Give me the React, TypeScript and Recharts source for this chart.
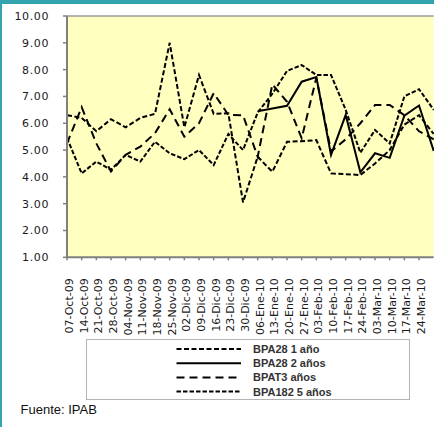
import React from 'react';
import { LineChart, Line, XAxis, YAxis, CartesianGrid, ReferenceLine } from 'recharts';

const dates = ['07-Oct-09','14-Oct-09','21-Oct-09','28-Oct-09','04-Nov-09','11-Nov-09','18-Nov-09','25-Nov-09','02-Dic-09','09-Dic-09','16-Dic-09','23-Dic-09','30-Dic-09','06-Ene-10','13-Ene-10','20-Ene-10','27-Ene-10','03-Feb-10','10-Feb-10','17-Feb-10','24-Feb-10','03-Mar-10','10-Mar-10','17-Mar-10','24-Mar-10','31-Mar-10'];

const bpa28_1 = [6.3, 6.2, 5.7, 6.15, 5.85, 6.2, 6.35, 9.0, 5.85, 7.8, 6.35, 6.37, 3.05, 4.75, 4.19, 5.31, 5.33, 5.37, 4.13, 4.1, 4.07, 4.5, 5.0, 5.95, 6.3, 5.6];
const bpa28_2: (number | null)[] = [null, null, null, null, null, null, null, null, null, null, null, null, null, 6.45, 6.55, 6.65, 7.55, 7.72, 4.82, 6.31, 4.17, 4.88, 4.71, 6.28, 6.66, 4.97];
const bpat3 = [5.25, 6.6, 5.25, 4.2, 4.82, 5.13, 5.63, 6.52, 5.5, 6.0, 7.12, 6.31, 6.3, 4.75, 7.45, 6.8, 5.44, 7.7, 4.95, 5.4, 6.0, 6.68, 6.68, 6.3, 5.7, 5.4];
const bpa182_5 = [5.45, 4.13, 4.57, 4.26, 4.82, 4.57, 5.31, 4.88, 4.66, 5.0, 4.44, 5.6, 5.0, 6.4, 7.1, 7.95, 8.17, 7.8, 7.8, 6.5, 4.9, 5.75, 5.25, 7.0, 7.27, 6.5];

const yTicks = [1, 2, 3, 4, 5, 6, 7, 8, 9, 10];
const xTicks = dates.slice(0, 25).map((_, i) => i);

const series = [
  { key: 'a', name: 'BPA28 1 año', values: bpa28_1, dash: '5 2.5' },
  { key: 'b', name: 'BPA28 2 años', values: bpa28_2, dash: undefined as string | undefined },
  { key: 'c', name: 'BPAT3 años', values: bpat3, dash: '8 5' },
  { key: 'd', name: 'BPA182 5 años', values: bpa182_5, dash: '4.5 2' },
];

const data = dates.map((d, i) => {
  const row: any = { idx: i, date: d };
  series.forEach((s) => { row[s.key] = s.values[i]; });
  return row;
});

const XTick = (props: any) => {
  const { x, y, payload } = props;
  const label = dates[payload.value] ?? '';
  const bx = x + 6;
  return (
    <text
      x={bx}
      y={y}
      transform={`rotate(-90, ${bx}, ${y})`}
      textAnchor="end"
      fontFamily="DejaVu Sans"
      fontSize={11}
      fill="#1a1a1a"
    >
      {label}
    </text>
  );
};

export default function App() {
  return (
    <div style={{ position: 'absolute', left: 0, top: 0, width: 434, height: 427, overflow: 'hidden', background: '#fff' }}>
      <div style={{ position: 'absolute', left: 0, top: 0 }}>
        <LineChart width={440} height={427} data={data} margin={{ top: 16, right: 6.3, bottom: 0, left: 0 }}>
          <CartesianGrid fill="#FFFFC0" horizontal={false} vertical={false} stroke="none" />
          <ReferenceLine y={10} stroke="#9a9a9a" strokeWidth={1.5} />
          <XAxis
            type="number"
            dataKey="idx"
            domain={[0, 25]}
            ticks={xTicks}
            interval={0}
            height={169.7}
            axisLine={{ stroke: '#808080', strokeWidth: 2 }}
            tickLine={{ stroke: '#808080', strokeWidth: 1.5 }}
            tickSize={3}
            tickMargin={18}
            tick={<XTick />}
            allowDecimals={false}
          />
          <YAxis
            type="number"
            domain={[1, 10]}
            ticks={yTicks}
            interval={0}
            width={67}
            axisLine={{ stroke: '#808080', strokeWidth: 2 }}
            tickLine={{ stroke: '#808080', strokeWidth: 1.5 }}
            tickSize={4}
            tickMargin={14}
            tickFormatter={(v: number) => v.toFixed(2)}
            tick={{ fontFamily: 'DejaVu Sans', fontSize: 11, fill: '#1a1a1a', letterSpacing: 0.6 }}
          />
          {series.map((s) => (
            <Line
              key={s.key}
              dataKey={s.key}
              name={s.name}
              type="linear"
              stroke="#000"
              strokeWidth={2}
              strokeDasharray={s.dash}
              dot={false}
              activeDot={false}
              isAnimationActive={false}
              connectNulls={false}
            />
          ))}
        </LineChart>
      </div>
      <div style={{ position: 'absolute', left: 0, top: 0, width: 434, height: 4, background: '#34A3B0' }} />
      <div style={{ position: 'absolute', left: 0, top: 0, width: 2, height: 427, background: '#34A3B0' }} />
      <div style={{ position: 'absolute', left: 86, top: 338.5, width: 324, height: 61, border: '1.5px solid #b4b4b4', boxSizing: 'border-box' }}>
        <svg width={321} height={58} style={{ position: 'absolute', left: 0, top: 0, overflow: 'visible' }}>
          {series.map((s, i) => {
            const cy = 9 + i * 14.2;
            return (
              <g key={s.key}>
                <line x1={89.5} x2={154} y1={cy} y2={cy} stroke="#000" strokeWidth={2} strokeDasharray={s.dash} />
                <text x={166} y={cy + 4} fontFamily="Liberation Sans" fontWeight="bold" fontSize={11} fill="#333">{s.name}</text>
              </g>
            );
          })}
        </svg>
      </div>
      <div style={{ position: 'absolute', left: 20.5, top: 402, fontFamily: 'Liberation Sans', fontSize: 13, color: '#111', whiteSpace: 'nowrap', lineHeight: '15px' }}>
        Fuente: IPAB
      </div>
    </div>
  );
}
